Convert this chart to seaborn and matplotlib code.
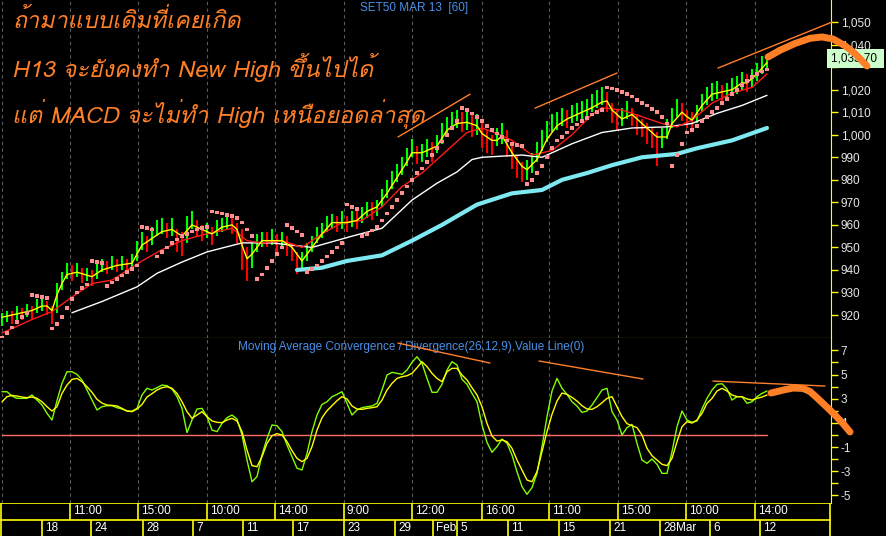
import matplotlib
matplotlib.use("Agg")
import matplotlib.pyplot as plt
import seaborn as sns
from matplotlib import font_manager, ft2font

# ---------------- data ----------------
# closes / highs / lows of the 60 minute bars (bar index 0..153)
close = [918, 920, 919, 921, 920, 922, 921, 924, 925, 923,
         921, 931, 936, 940, 938, 940, 937, 938, 936, 940,
         942, 941, 943, 942, 943, 941, 944, 950, 953, 951,
         955, 958, 959, 957, 959, 954, 952, 960, 962, 958,
         956, 957, 955, 959, 960, 961, 959, 957, 946, 940,
         948, 952, 954, 953, 955, 952, 954, 950, 948, 942,
         944, 949, 952, 956, 958, 961, 962, 960, 962, 961,
         963, 962, 965, 967, 966, 968, 972, 976, 980, 983,
         986, 990, 994, 991, 992, 994, 993, 996, 1001, 1004,
         1006, 1007, 1005, 1006, 1004, 1005, 999, 997, 996, 999,
         1001, 996, 990, 986, 983, 985, 988, 993, 998, 1002,
         1005, 1006, 1008, 1007, 1009, 1010, 1011, 1012, 1014, 1016,
         1017, 1014, 1009, 1006, 1008, 1011, 1008, 1004, 1003, 1001,
         999, 996, 999, 1003, 1008, 1012, 1010, 1007, 1006, 1009,
         1014, 1017, 1019, 1020, 1018, 1019, 1021, 1022, 1024, 1023,
         1025, 1028, 1031, 1033.7]
high = [921, 922, 922, 924, 923, 925, 924, 927, 928, 926,
        924, 934, 939, 943, 942, 943, 941, 941, 940, 943,
        945, 944, 946, 945, 946, 945, 947, 953, 957, 955,
        959, 962, 963, 961, 963, 958, 957, 964, 966, 962,
        960, 961, 959, 962, 963, 964, 963, 961, 958, 950,
        952, 956, 957, 957, 958, 956, 957, 955, 952, 948,
        948, 952, 955, 959, 961, 964, 965, 964, 966, 964,
        966, 966, 968, 970, 970, 971, 976, 980, 984, 987,
        990, 994, 998, 995, 996, 998, 997, 1000, 1005, 1008,
        1010, 1011, 1010, 1010, 1009, 1009, 1005, 1002, 1000, 1003,
        1005, 1002, 996, 991, 988, 989, 992, 997, 1002, 1006,
        1009, 1010, 1012, 1011, 1013, 1014, 1015, 1016, 1018, 1020,
        1021, 1019, 1014, 1011, 1012, 1015, 1012, 1009, 1007, 1005,
        1003, 1001, 1003, 1007, 1012, 1016, 1014, 1011, 1010, 1013,
        1018, 1021, 1023, 1024, 1022, 1023, 1025, 1026, 1028, 1027,
        1029, 1032, 1035, 1036]
low = [915, 917, 916, 918, 918, 919, 918, 921, 922, 920,
       916, 921, 931, 936, 935, 937, 934, 935, 933, 936,
       939, 938, 940, 939, 940, 938, 940, 944, 949, 948,
       951, 955, 956, 954, 955, 948, 946, 952, 958, 955,
       953, 954, 951, 955, 957, 958, 956, 952, 940, 935,
       941, 948, 950, 950, 951, 948, 950, 946, 944, 938,
       940, 944, 948, 952, 954, 957, 958, 957, 958, 957,
       959, 958, 961, 963, 962, 964, 968, 972, 976, 979,
       982, 986, 990, 987, 988, 990, 988, 992, 996, 1000,
       1002, 1003, 1001, 1002, 999, 1000, 994, 992, 991, 995,
       996, 990, 985, 981, 979, 980, 983, 988, 993, 997,
       1001, 1002, 1004, 1003, 1005, 1006, 1007, 1008, 1010, 1012,
       1013, 1010, 1005, 1002, 1004, 1007, 1004, 1000, 999, 996,
       994, 986, 994, 998, 1003, 1008, 1006, 1003, 1002, 1005,
       1010, 1013, 1015, 1016, 1014, 1015, 1017, 1018, 1020, 1019,
       1021, 1024, 1027, 1029]

# fast average (yellow) and slow average (red), sampled at bar positions
fast_bar = [0, 2, 4, 6, 8, 9, 10, 11, 12, 13, 15, 18, 20, 23, 26, 28, 30, 32, 34, 36,
            38, 40, 42, 44, 46, 47, 48, 49, 50, 52, 54, 56, 58, 60, 62, 64, 66, 69, 71, 73,
            75, 77, 79, 81, 82, 84, 87, 89, 91, 93, 95, 96, 98, 99, 100, 102, 104, 105, 107, 109,
            111, 113, 116, 118, 120, 121, 122, 124, 126, 128, 130, 131, 133, 134, 136, 137, 138, 140, 142, 144,
            146, 148, 149, 151, 153]
fast_ma = [919, 920, 921, 922, 924, 924, 922, 929, 934, 938, 939, 937, 940, 942, 943, 951, 954, 957, 958, 955,
           960, 958, 956, 959, 960, 958, 951, 945, 947, 953, 953, 953, 950, 944, 950, 956, 961, 961, 962, 966,
           968, 974, 981, 988, 992, 992, 995, 1002, 1005, 1005.5, 1004, 1000.5, 997.5, 997.5, 999.5, 992, 986, 984.5, 989, 998,
           1004, 1007, 1010, 1012, 1014.5, 1015, 1011, 1007, 1009, 1005, 1001, 999, 999, 1005, 1010, 1008, 1006.5, 1013, 1018, 1019,
           1020, 1023, 1023, 1027, 1032]
slow_bar = [0, 6, 10, 14, 18, 22, 28, 32, 36, 40, 46, 49, 52, 56, 60, 64, 68, 72, 76, 80,
            84, 89, 93, 96, 99, 102, 106, 110, 114, 118, 120, 124, 128, 132, 135, 138, 142, 146, 150, 153]
slow_ma = [912, 918, 921.5, 928, 934, 935.5, 944, 949, 953, 955.5, 958.5, 953, 952, 953, 950, 956, 961, 962, 968, 977,
           983, 993, 1001, 1003, 1000.5, 997.5, 991, 993, 1000, 1009, 1012, 1011, 1008, 1005, 1003.5, 1006.5, 1014, 1018.5, 1021, 1027]
white_bar = [14, 20, 27, 31, 36, 41, 48, 54, 58, 62, 66, 70, 76, 82, 87, 91, 94, 96, 100, 104,
             108, 114, 120, 126, 133, 138, 143, 148, 153]
white_ma = [921, 926, 932.5, 938.5, 943.5, 948, 952, 952, 951, 950, 952.5, 955, 958.5, 971, 978.5, 983.5, 989, 990, 990.5, 991,
            990, 996, 1001, 1003, 1003.5, 1005, 1009.5, 1013, 1017.5]
cyan_bar = [59, 64, 69, 76, 82, 88, 95, 102, 108, 112, 117, 122, 128, 135, 139, 146, 153]
cyan_ma = [940, 941, 944, 946.5, 953, 960, 969, 974, 975.5, 980, 983, 986.5, 990, 991.5, 994, 997.5, 1003]

# parabolic SAR pieces: (first bar, values)
sar_segments = [
    (0, [910, 912, 914.5, 917, 919, 921]),
    (6, [929, 928.5, 928, 927.5]),
    (10, [914, 916, 919, 923, 927, 930, 932, 933.5]),
    (18, [944, 943.5, 943]),
    (21, [933, 934.5, 936, 937.5, 939, 940.5, 942]),
    (28, [959, 958.5, 958]),
    (31, [946, 948, 950, 952, 953.5, 955, 956, 957, 958, 958.5, 959]),
    (42, [966, 965.5, 965, 964.5, 964, 963, 961, 958, 955]),
    (51, [936, 938, 941, 944, 947, 950]),
    (57, [960, 958.5, 957, 955.5]),
    (61, [939, 940.5, 942, 944, 946, 948, 950, 952]),
    (69, [969, 968, 967]),
    (72, [955, 956, 957.5, 959, 962, 965, 968, 971, 974, 977, 980, 983, 985, 988, 991, 994, 997, 1000, 1003, 1006]),
    (92, [1012, 1011, 1009.5, 1008, 1006, 1004, 1002, 1000.5, 999, 997.5, 996, 995.5, 995]),
    (105, [978, 980, 983, 986, 990, 994, 997.5, 999, 1001, 1003, 1004.5, 1006, 1007.5, 1009, 1010, 1011]),
    (121, [1021, 1020.5, 1020, 1019, 1018, 1017, 1015.5, 1014, 1013, 1011.5, 1010, 1008, 1005]),
    (134, [986, 991, 996, 1001, 1002, 1004, 1006, 1008, 1010, 1012, 1014, 1016, 1018, 1020, 1022, 1024, 1025.5, 1027, 1028, 1029]),
]

# MACD (green) and signal (yellow)
macd = [3.58, 3.58, 3.22, 3.03, 3.03, 3.03, 3.31, 2.89, 2.48, 1.79,
        1.24, 2.84, 4.27, 5.23, 5.23, 5.01, 4.55, 3.72, 2.89, 2.07,
        2.34, 2.42, 2.42, 2.26, 2.15, 1.98, 1.98, 2.20, 3.31, 3.86,
        3.72, 3.91, 4.13, 4.08, 3.80, 3.17, 2.20, 0.20, 1.24, 2.15,
        2.20, 1.52, 0.41, 0.28, 0.96, 1.43, 1.65, 1.32, 0.00, -2.07,
        -3.86, -3.44, -1.65, -0.28, 0.83, 0.77, 0.28, -0.83, -1.79, -2.75,
        -2.89, -1.52, 0.28, 1.65, 2.53, 2.75, 3.17, 3.36, 3.58, 2.62,
        1.65, 2.07, 2.26, 2.34, 2.40, 2.62, 3.72, 4.96, 5.18, 5.10,
        5.01, 5.37, 6.01, 6.47, 5.92, 4.68, 3.53, 3.53, 4.19, 5.37,
        6.06, 5.79, 4.60, 4.19, 3.44, 2.75, 0.83, -0.61, -1.43, -0.96,
        -0.33, -0.69, -1.65, -3.03, -4.27, -4.90, -4.35, -3.17, -0.96, 1.52,
        3.64, 4.68, 3.86, 3.36, 2.75, 2.40, 1.87, 1.98, 2.48, 3.09,
        3.72, 3.86, 1.93, 1.24, 0.00, 0.61, 0.88, -0.69, -2.07, -2.34,
        -1.98, -2.42, -3.17, -3.17, -1.38, 0.69, 1.98, 1.24, 1.05, 1.16,
        2.15, 3.03, 3.72, 4.19, 4.24, 3.80, 2.89, 3.17, 3.17, 2.62,
        2.75, 3.17, 3.44, 3.64]
signal = [2.75, 3.17, 3.28, 3.22, 3.14, 3.09, 3.14, 3.03, 2.75, 2.34,
          1.98, 2.34, 3.44, 4.13, 4.60, 4.68, 4.41, 3.99, 3.53, 2.95,
          2.64, 2.48, 2.45, 2.40, 2.20, 1.98, 1.93, 2.15, 2.53, 3.14,
          3.42, 3.72, 3.91, 3.99, 3.86, 3.44, 2.75, 1.93, 1.38, 1.65,
          1.93, 1.52, 1.16, 1.05, 1.02, 1.24, 1.38, 1.16, 0.28, -1.24,
          -2.53, -2.62, -1.79, -0.69, -0.06, 0.11, 0.00, -0.55, -1.29, -1.93,
          -2.20, -1.93, -0.96, 0.41, 1.43, 2.01, 2.42, 2.84, 3.17, 2.98,
          2.40, 2.15, 2.12, 2.20, 2.26, 2.34, 2.89, 3.72, 4.27, 4.68,
          4.82, 4.90, 5.10, 5.56, 6.06, 5.65, 5.10, 4.68, 4.41, 5.23,
          5.51, 5.51, 4.96, 4.55, 3.91, 3.31, 2.34, 0.96, -0.08, -0.50,
          -0.41, -0.55, -1.10, -2.07, -2.89, -3.72, -3.86, -3.03, -1.38, 0.28,
          1.71, 2.81, 3.47, 3.36, 3.11, 2.81, 2.42, 2.15, 2.12, 2.34,
          2.67, 3.03, 3.17, 2.34, 1.52, 0.94, 0.77, 0.61, 0.00, -1.10,
          -1.71, -2.07, -2.42, -2.53, -1.93, -0.55, 0.69, 1.10, 0.99, 1.24,
          1.79, 2.62, 3.03, 3.64, 3.86, 3.64, 3.31, 3.17, 3.17, 2.98,
          2.89, 3.03, 3.14, 3.31]

# hand drawn trend lines and projections
price_trend = [((79.2, 999.0), (93.6, 1018.0)),
               ((106.6, 1011.8), (123.0, 1027.4)),
               ((143.2, 1029.6), (166.0, 1050.0))]
macd_trend = [((79.2, 7.6), (97.6, 5.95)),
              ((107.4, 6.12), (128.2, 4.63)),
              ((142.2, 4.46), (164.6, 4.05))]
proj_bar = [153.2, 155.6, 158.6, 161.6, 164.0, 166.2, 168.6, 170.6, 173.0]
proj_price = [1034.5, 1037.5, 1040.5, 1042.8, 1043.4, 1042.5, 1039.5, 1036.0, 1030.5]
proj_mbar = [153.8, 156.6, 158.2, 160.2, 161.6, 163.2, 165.0, 166.6, 168.2, 169.6]
proj_macd = [3.47, 3.75, 3.88, 3.85, 3.6, 3.0, 2.3, 1.65, 0.95, 0.25]

# axis labels
price_ticks = list(range(920, 1051, 10))
macd_ticks = [7, 5, 3, 1, -1, -3, -5]
time_pos = [13.6, 27.2, 41.0, 54.6, 68.4, 82.0, 96.0, 109.4, 123.2, 136.8, 150.6]
time_lbl = ["11:00", "15:00", "10:00", "14:00", "9:00", "12:00", "16:00", "11:00", "15:00", "10:00", "14:00"]
date_pos = [8.0, 17.8, 28.2, 38.2, 48.2, 58.2, 68.4, 78.6, 86.2, 91.0, 101.2, 111.4, 121.6, 131.6, 141.6, 151.6]
date_lbl = ["18", "24", "28", "7", "11", "17", "23", "29", "Feb", "5", "11", "15", "21", "28", "6", "12"]

notes = ["ถ้ามาแบบเดิมที่เคยเกิด",
         "H13 จะยังคงทำ New High ขึ้นไปได้",
         "แต่ MACD จะไม่ทำ High เหนือยอดล่าสุด"]


def thai_family():
    # first installed family that has Thai glyphs, sans faces first
    names = set()
    for f in font_manager.fontManager.ttflist:
        try:
            cmap = ft2font.FT2Font(f.fname).get_charmap()
        except Exception:
            continue
        if 0x0E01 in cmap and 0x0E33 in cmap:
            names.add(f.name)
    for want in ["Loma", "Garuda", "Waree", "Umpush", "Noto Sans Thai"]:
        if want in names:
            return want
    return sorted(names)[0] if names else None


sns.set_style("dark", {"axes.facecolor": "black", "figure.facecolor": "black"})
plt.rcParams["font.family"] = ["Liberation Sans", "DejaVu Sans"]
plt.rcParams["axes.unicode_minus"] = False
tf = thai_family()
thai_fam = [tf, "Liberation Sans", "DejaVu Sans"] if tf else ["DejaVu Sans"]

YEL = "#ffff00"
W, H = 886, 536
XL = (-0.4, 165.8)

fig = plt.figure(figsize=(W / 100, H / 100), dpi=100)
fig.patch.set_facecolor("black")
ax = fig.add_axes([0, 198 / H, 831 / W, 338 / H])
axm = fig.add_axes([0, 33 / H, 831 / W, 165 / H])
axt = fig.add_axes([0, 0, 831 / W, 33 / H])

for a in (ax, axm, axt):
    a.set_facecolor("black")
    a.set_xlim(*XL)
    a.grid(False)
    for s in a.spines.values():
        s.set_visible(False)
    a.set_xticks([])

# ---------- price panel ----------
for xp in [-0.1] + time_pos:
    ax.axvline(xp, color="#5c5c5c", lw=0.8, ls=(0, (3, 3)), zorder=0)
    axm.axvline(xp, color="#5c5c5c", lw=0.8, ls=(0, (3, 3)), zorder=0)

bars = list(range(len(close)))
cols = ["#00ff00" if i == 0 or close[i] >= close[i - 1] else "#ff0000" for i in bars]
ax.vlines(bars, low, high, colors=cols, lw=1.5, zorder=2)

sns.lineplot(x=cyan_bar, y=cyan_ma, ax=ax, color="#7fe9f2", lw=3.0, zorder=3)
sns.lineplot(x=white_bar, y=white_ma, ax=ax, color="white", lw=1.0, zorder=3)
sns.lineplot(x=slow_bar, y=slow_ma, ax=ax, color="#ff1a1a", lw=1.0, zorder=4)
sns.lineplot(x=fast_bar, y=fast_ma, ax=ax, color=YEL, lw=1.0, zorder=5)
for start, vals in sar_segments:
    sns.scatterplot(x=list(range(start, start + len(vals))), y=vals, ax=ax, marker="s",
                    s=7, color="#ff8f8f", edgecolor="none", zorder=6)
for (x0, y0), (x1, y1) in price_trend:
    ax.plot([x0, x1], [y0, y1], color="#ff7f2a", lw=1.0, zorder=6, clip_on=False)
ax.plot(proj_bar, proj_price, color="#ff7f27", lw=5, solid_capstyle="round", zorder=9, clip_on=False)

ax.set_ylim(909.8, 1059.8)
ax.yaxis.tick_right()
ax.set_yticks(price_ticks)
ax.set_yticklabels(["" if v == 1030 else f"{v:,}" for v in price_ticks])
ax.tick_params(axis="y", colors=YEL, labelcolor="#e6e6e6", length=5, width=1, pad=2, labelsize=8.5, right=True)
ax.spines["right"].set_visible(True)
ax.spines["right"].set_color(YEL)
ax.spines["bottom"].set_visible(True)
ax.spines["bottom"].set_color(YEL)
ax.set_ylabel("")
ax.set_xlabel("")
ax.text(1.0, close[-1], "1,033.70 ", transform=ax.get_yaxis_transform(), ha="left", va="center",
        fontsize=8.5, color="black", zorder=8, clip_on=False,
        bbox=dict(boxstyle="square,pad=0.3", fc="#ccffcc", ec="none"))

fig.text(360 / W, 1 - 8 / H, "SET50 MAR 13  [60]", color="#4a90e8", fontsize=8.5, va="center")
for k, t in enumerate(notes):
    fig.text(12 / W, 1 - (21 + 46.5 * k) / H, t, color="#ff7f27", fontsize=16.8, style="italic",
             family=thai_fam, va="center", zorder=10)

# ---------- MACD panel ----------
axm.plot([0, bars[-1]], [0, 0], color="#ff6a6a", lw=1.0, zorder=2)
sns.lineplot(x=bars, y=macd, ax=axm, color="#80ff00", lw=1.0, zorder=3)
sns.lineplot(x=bars, y=signal, ax=axm, color=YEL, lw=1.0, zorder=4)
for (x0, y0), (x1, y1) in macd_trend:
    axm.plot([x0, x1], [y0, y1], color="#ff7f2a", lw=1.0, zorder=5)
axm.plot(proj_mbar, proj_macd, color="#ff7f27", lw=5, solid_capstyle="round", zorder=9, clip_on=False)
axm.set_ylim(-5.62, 8.02)
axm.yaxis.tick_right()
axm.set_yticks(macd_ticks)
axm.set_yticks([6, 4, 2, 0, -2, -4], minor=True)
axm.tick_params(axis="y", which="both", colors=YEL, labelcolor="#e6e6e6", length=5, width=1, pad=2,
                labelsize=8.5, right=True)
axm.spines["right"].set_visible(True)
axm.spines["right"].set_color(YEL)
axm.set_ylabel("")
axm.text(238 / W, 1 - 347 / H, "Moving Average Convergence / Divergence(26,12,9),Value Line(0)",
         transform=fig.transFigure, color="#4a90e8", fontsize=8.5, va="center")

# ---------- time / date strip ----------
axt.set_ylim(0, 2)
axt.set_yticks([])
axt.axhline(2, color=YEL, lw=1.2)
axt.axhline(1, color=YEL, lw=1.2)
axt.vlines(time_pos, 1, 2, color=YEL, lw=1.2)
axt.vlines(date_pos, 0, 1, color=YEL, lw=1.2)
axt.axvline(XL[0] + 0.15, color=YEL, lw=1.2)
axt.axvline(XL[1] - 0.1, color=YEL, lw=1.2)
for xp, t in zip(time_pos, time_lbl):
    axt.text(xp + 0.6, 1.5, t, color="white", fontsize=8.5, va="center", ha="left")
for xp, t in zip(date_pos, date_lbl):
    axt.text(xp + 0.7, 0.5, t, color="white", fontsize=8.5, va="center", ha="left")
axt.text(134.8, 0.5, "Mar", color="white", fontsize=8.5, va="center", ha="left")

fig.savefig("out.png", dpi=100, facecolor="black")
